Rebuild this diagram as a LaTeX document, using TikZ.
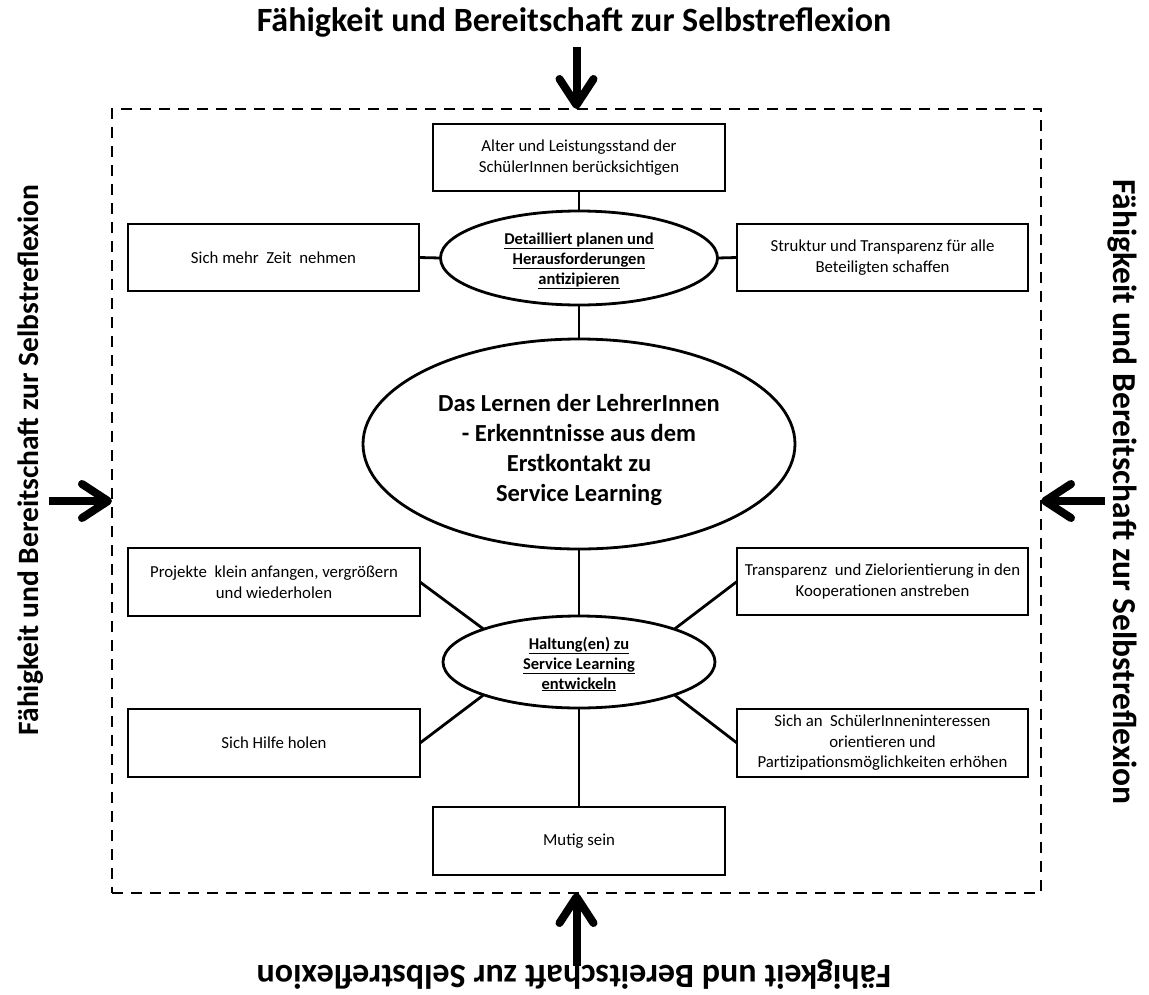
\documentclass[tikz,border=0pt]{standalone}
\usepackage{fontspec}
\setmainfont{Carlito}
\usetikzlibrary{arrows.meta,shapes.geometric}

\tikzset{
  box/.style={draw, line width=2.8pt, rectangle, inner sep=0pt, outer sep=0pt,
              align=center, font=\fontsize{16.8}{20.5}\selectfont},
  wide/.style={minimum width=291pt, minimum height=67pt},
  oval/.style={draw, line width=2.8pt, ellipse, inner sep=0pt, outer sep=0pt},
  ovaltext/.style={align=center, inner sep=0pt, font=\bfseries\fontsize{16.5}{20}\selectfont},
  coretext/.style={align=center, inner sep=0pt, font=\bfseries\fontsize{24.5}{29.7}\selectfont},
  link/.style={line width=2.8pt},
  frame/.style={draw, line width=2.6pt, dash pattern=on 11pt off 8pt,
                rectangle, inner sep=0pt, outer sep=0pt},
  side/.style={inner sep=0pt, font=\bfseries\fontsize{34}{40}\selectfont},
  push/.style={line width=8pt, -{Straight Barb[length=26pt, width=34pt, round]}}
}

\begin{document}
\begin{tikzpicture}[x=1pt, y=-1pt]
\useasboundingbox (0,0) rectangle (1149,994);

% dashed boundary
\node[frame, minimum width=929pt, minimum height=784pt] (frame) at (576.5,501) {};

% captions on the four sides
\node[side] (capT) at (574,22) {Fähigkeit und Bereitschaft zur Selbstreflexion};
\node[side, rotate=180] (capB) at (574,975) {Fähigkeit und Bereitschaft zur Selbstreflexion};
\node[side, rotate=90, font=\bfseries\fontsize{29.5}{34}\selectfont] (capL) at (31,460)
  {Fähigkeit und Bereitschaft zur Selbstreflexion};
\node[side, rotate=-90, font=\bfseries\fontsize{33.5}{40}\selectfont] (capR) at (1122,492)
  {Fähigkeit und Bereitschaft zur Selbstreflexion};

% arrows pointing onto the boundary
\coordinate (aT) at (576.5,47);
\coordinate (aB) at (576.5,966);
\coordinate (aL) at (49,501);
\coordinate (aR) at (1105,501);
\draw[push] (aT) -- (frame.north);
\draw[push] (aB) -- (frame.south);
\draw[push] (aL) -- (frame.west);
\draw[push] (aR) -- (frame.east);

% central topic
\node[oval, minimum width=432pt, minimum height=210pt,
      label={[name=coreT, coretext, yshift=-6pt]center:{Das Lernen der LehrerInnen\\- Erkenntnisse aus dem\\Erstkontakt zu\\Service Learning}}]
  (core) at (579,444) {};

% upper cluster
\node[oval, minimum width=277pt, minimum height=94pt,
      label={[name=planT, ovaltext, yshift=-3pt]center:{\underline{Detailliert planen und}\\\underline{Herausforderungen}\\\underline{antizipieren}}}]
  (plan) at (579,258) {};
\node[box, minimum width=292pt, minimum height=67pt] (alter) at (579,157.5)
  {Alter und Leistungsstand der\\SchülerInnen berücksichtigen};
\node[box, wide] (zeit) at (273.5,257.5) {Sich mehr~ Zeit~ nehmen};
\node[box, wide] (struktur) at (882.5,257.5)
  {Struktur und Transparenz für alle\\Beteiligten schaffen};

% lower cluster
\node[oval, minimum width=272pt, minimum height=92pt,
      label={[name=haltungT, ovaltext, yshift=-2pt]center:{\underline{Haltung(en) zu}\\\underline{Service Learning}\\\underline{entwickeln}}}]
  (haltung) at (579,662) {};
\node[box, minimum width=292pt, minimum height=68pt] (projekte) at (274,582)
  {Projekte~ klein anfangen, vergrößern\\und wiederholen};
\node[box, wide] (transparenz) at (882.5,581.5)
  {Transparenz~ und Zielorientierung in den\\Kooperationen anstreben};
\node[box, minimum width=292pt, minimum height=68pt] (hilfe) at (274,743)
  {Sich Hilfe holen};
\node[box, minimum width=291pt, minimum height=68pt] (interessen) at (882.5,743)
  {Sich an~ SchülerInneninteressen\\orientieren und\\Partizipationsmöglichkeiten erhöhen};
\node[box, minimum width=292pt, minimum height=68pt] (mutig) at (579,841)
  {Mutig sein};

% connectors
\draw[link] (alter.south) -- (plan.north);
\draw[link] (zeit.east) -- (plan.west);
\draw[link] (plan.east) -- (struktur.west);
\draw[link] (plan.south) -- (core.north);
\draw[link] (core.south) -- (haltung.north);
\draw[link] (haltung.161) -- (projekte.east);
\draw[link] (haltung.19) -- (transparenz.west);
\draw[link] (haltung.199) -- (hilfe.east);
\draw[link] (haltung.341) -- (interessen.west);
\draw[link] (haltung.south) -- (mutig.north);
\end{tikzpicture}
\end{document}
